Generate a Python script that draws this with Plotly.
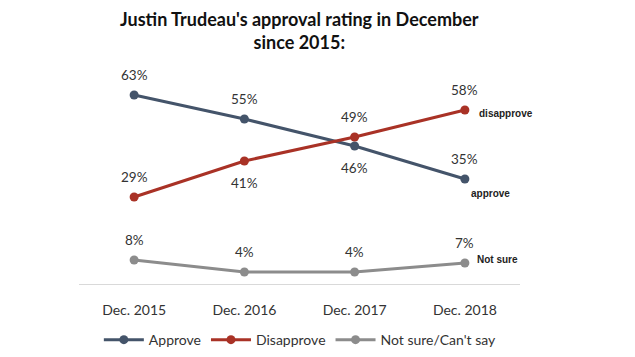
import plotly.graph_objects as go

categories = ["Dec. 2015", "Dec. 2016", "Dec. 2017", "Dec. 2018"]
approve = [63, 55, 46, 35]
disapprove = [29, 41, 49, 58]
not_sure = [8, 4, 4, 7]
series_names = ["Approve", "Disapprove", "Not sure/Can't say"]
end_labels = ["approve", "disapprove", "Not sure"]
title = "Justin Trudeau's approval rating in December<br>since 2015:"

colors = ["#44546A", "#A93226", "#8C8C8C"]
# label placement: +1 above, -1 below
approve_pos = [1, 1, -1, 1]
disapprove_pos = [1, -1, 1, 1]
not_sure_pos = [1, 1, 1, 1]

fig = go.Figure()
for name, vals, col in zip(series_names, [approve, disapprove, not_sure], colors):
    fig.add_trace(go.Scatter(
        x=categories, y=vals, name=name, mode="lines+markers",
        line=dict(color=col, width=3), marker=dict(color=col, size=9),
    ))

ann = []
for vals, pos in [(approve, approve_pos), (disapprove, disapprove_pos), (not_sure, not_sure_pos)]:
    for c, v, p in zip(categories, vals, pos):
        ann.append(dict(x=c, y=v, text=f"{v}%", showarrow=False, xref="x", yref="y",
                        yshift=20 if p > 0 else -22,
                        font=dict(family="Lato, Open Sans, sans-serif", size=13.5, color="#333333")))

end_font = dict(family="Liberation Sans, Arial", size=10, color="#222222", weight="bold")
ann.append(dict(x=categories[3], y=disapprove[3], text=end_labels[1], showarrow=False,
                xanchor="left", xshift=12, yshift=-3, font=end_font))
ann.append(dict(x=categories[3], y=approve[3], text=end_labels[0], showarrow=False,
                xanchor="left", xshift=4, yshift=-14, font=end_font))
ann.append(dict(x=categories[3], y=not_sure[3], text=end_labels[2], showarrow=False,
                xanchor="left", xshift=10, yshift=4, font=end_font))

# title as annotation in paper coordinates
ann.append(dict(text=f"<b>{title}</b>", xref="paper", yref="paper", x=0.499, y=1.205,
                xanchor="center", yanchor="middle", showarrow=False,
                font=dict(family="Lato, Open Sans, sans-serif", size=18, color="#111111")))

fig.update_layout(
    width=627, height=349,
    paper_bgcolor="white", plot_bgcolor="white",
    margin=dict(l=71, r=115, t=66, b=73, autoexpand=False),
    xaxis=dict(type="category", range=[-0.5, 3.5], showgrid=False, showline=True,
               linecolor="#D9D9D9", linewidth=1, ticks="", zeroline=False,
               tickfont=dict(family="Lato, Open Sans, sans-serif", size=14, color="#333333"),
               ticklabelstandoff=13),
    yaxis=dict(range=[0, 70], visible=False),
    legend=dict(orientation="h", x=0.045, xanchor="left", y=-0.267, yanchor="middle",
                font=dict(family="Lato, Open Sans, sans-serif", size=14, color="#333333"),
                itemwidth=40, tracegroupgap=0),
    annotations=ann,
    showlegend=True,
)

fig.write_html("out.html")
